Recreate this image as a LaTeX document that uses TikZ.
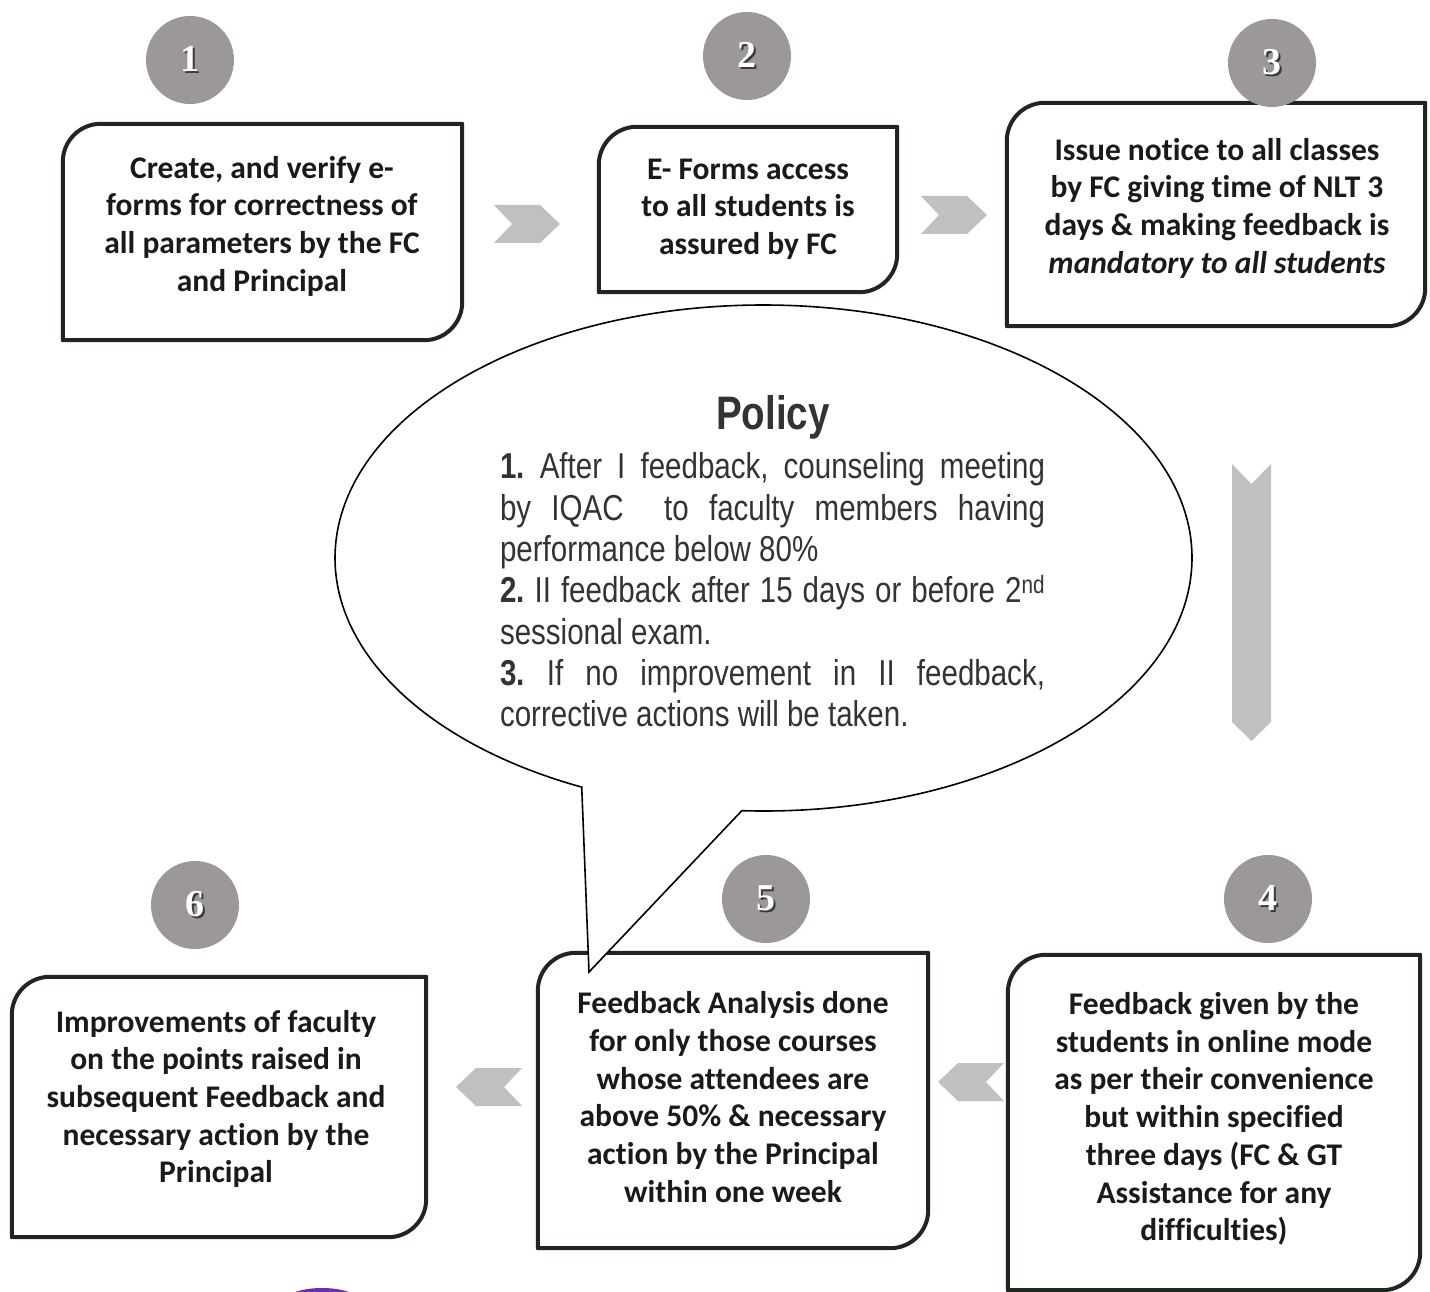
\documentclass[tikz,border=0pt]{standalone}
\usepackage{fontspec}
\setmainfont{Carlito}[Ligatures=NoCommon]
\newfontfamily\policyfont[FakeStretch=0.82]{Liberation Sans}
\newfontfamily\numfont{Liberation Serif}
\usetikzlibrary{calc}
\definecolor{boxline}{HTML}{1E261E}
\definecolor{circgray}{HTML}{9C9897}
\definecolor{chevgray}{HTML}{C2BFBF}
\definecolor{inkdark}{HTML}{1A1A1A}
\definecolor{policyink}{HTML}{333333}
\definecolor{numshadow}{HTML}{3A3A3A}
\definecolor{blotpurple}{HTML}{6B2DB5}
\newcommand\shnum[1]{\rlap{\kern1.6pt\raisebox{-1.6pt}{\textcolor{numshadow}{#1}}}#1}
\newcommand\cornerbox[1]{%
  \draw[boxborder] (#1.south west) -- ([yshift=-38pt]#1.north west)
    arc[start angle=180,end angle=90,radius=38pt] -- (#1.north east)
    -- ([yshift=38pt]#1.south east)
    arc[start angle=0,end angle=-90,radius=38pt] -- cycle;}
\tikzset{
  stepbox/.style={draw=none,inner sep=0pt},
  boxborder/.style={draw=boxline,line width=4pt,line join=round},
  boxtext/.style={font=\fontsize{31.5}{37.7}\selectfont\bfseries,align=center,inner sep=0pt,text=inkdark},
  numcirc/.style={circle,fill=circgray,minimum size=88pt,inner sep=0pt,
    font=\numfont\bfseries\fontsize{38}{38}\selectfont,text=white},
  chevron/.style={fill=chevgray,draw=none},
  chevR/.pic={\path[chevron] (-33,-19) -- (13,-19) -- (33,0) -- (13,19) -- (-33,19) -- (-15,0) -- cycle;},
  chevL/.pic={\path[chevron] (33,-19) -- (-13,-19) -- (-33,0) -- (-13,19) -- (33,19) -- (15,0) -- cycle;},
}
\begin{document}
\begin{tikzpicture}[x=1pt,y=-1pt]
\path[fill=white,use as bounding box] (0,0) rectangle (1430,1292);

% boxes
\node[stepbox,minimum width=399pt,minimum height=216pt] (b1) at (262.5,232) {};
\node[stepbox,minimum width=298pt,minimum height=165pt] (b2) at (748,209.5) {};
\node[stepbox,minimum width=418pt,minimum height=223pt] (b3) at (1216,214.5) {};
\node[stepbox,minimum width=412pt,minimum height=335pt] (b4) at (1214,1122.5) {};
\node[stepbox,minimum width=390pt,minimum height=295pt] (b5) at (733,1100.5) {};
\node[stepbox,minimum width=414pt,minimum height=260pt] (b6) at (219,1107) {};
\cornerbox{b1}\cornerbox{b2}\cornerbox{b3}\cornerbox{b4}\cornerbox{b5}\cornerbox{b6}

\node[boxtext] (t1) at (262,226) {Create, and verify e-\\forms for correctness of\\all parameters by the FC\\and Principal};
\node[boxtext] (t2) at (748,209) {E- Forms access\\to all students is\\assured by FC};
\node[boxtext] (t3) at (1217,208) {Issue notice to all classes\\by FC giving time of NLT 3\\days \& making feedback is\\\textit{mandatory to all students}};
\node[boxtext] (t4) at (1214,1119) {Feedback given by the\\students in online mode\\as per their convenience\\but within specified\\three days (FC \& GT\\Assistance for any\\difficulties)};
\node[boxtext] (t5) at (733,1097) {Feedback Analysis done\\for only those courses\\whose attendees are\\above 50\% \& necessary\\action by the Principal\\within one week};
\node[boxtext] (t6) at (216,1099) {Improvements of faculty\\on the points raised in\\subsequent Feedback and\\necessary action by the\\Principal};

% chevron connectors
\coordinate (a12) at (527,224);
\coordinate (a23) at (954,215);
\coordinate (a45) at (971,1082);
\coordinate (a56) at (489,1087);
\pic at (a12) {chevR};
\pic at (a23) {chevR};
\pic at (a45) {chevL};
\pic at (a56) {chevL};
\path[chevron] (1232,464) -- (1251.5,484) -- (1271,464) -- (1271,722) -- (1251.5,741) -- (1232,722) -- cycle;

% policy callout
\coordinate (pc) at (763.5,558);
\coordinate (tip) at (589,972);
\draw[fill=white,draw=black,line width=1.6pt,line join=miter]
  (pc) ++(267.1:428.5pt and 253pt)
  arc[start angle=267.1,end angle=604.9,x radius=428.5pt,y radius=253pt]
  -- (tip) -- cycle;
\node[font=\policyfont\bfseries\fontsize{47}{50}\selectfont,text=policyink,inner sep=0pt] (ptitle) at (773,417) {Policy};
\node[font=\policyfont\fontsize{36}{41.3}\selectfont,text=policyink,text width=545pt,align=justify,inner sep=0pt] (pbody) at (772.5,590) {\parindent=0pt\frenchspacing
{\bfseries 1.} After I feedback, counseling meeting\linebreak by IQAC\ \ to faculty members having\linebreak performance below 80\%\par
{\bfseries 2.} II feedback after 15 days or before 2\textsuperscript{nd}\linebreak sessional exam.\par
{\bfseries 3.} If no improvement in II feedback,\linebreak corrective actions will be taken.\par};

% number circles
\node[numcirc] (n1) at (190,60) {\shnum{1}};
\node[numcirc] (n2) at (747,56) {\shnum{2}};
\node[numcirc] (n3) at (1272,63) {\shnum{3}};
\node[numcirc] (n4) at (1268,899) {\shnum{4}};
\node[numcirc] (n5) at (766,899) {\shnum{5}};
\node[numcirc] (n6) at (195,905) {\shnum{6}};

% purple mark at the bottom edge
\fill[blotpurple] (322,1302) ellipse[x radius=38pt,y radius=14pt];
\end{tikzpicture}
\end{document}
